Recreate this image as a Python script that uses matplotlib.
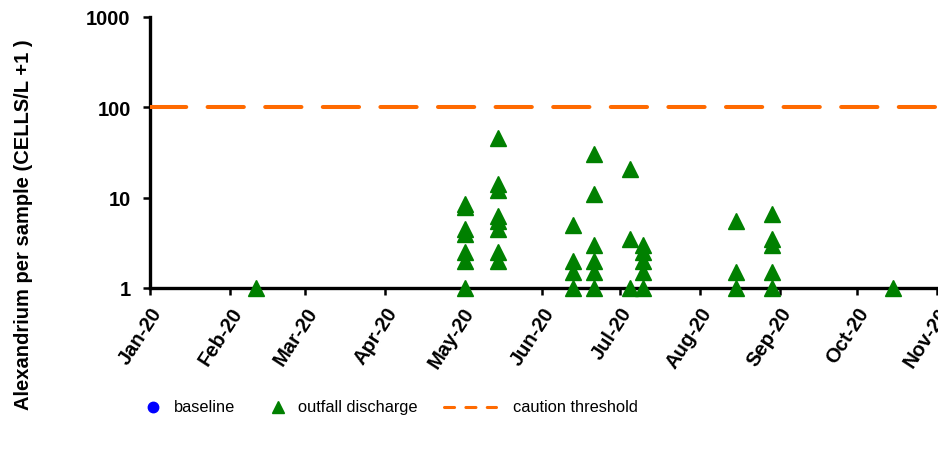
import datetime as dt

import matplotlib
matplotlib.use("Agg")
import matplotlib.pyplot as plt
import matplotlib.dates as mdates
from matplotlib.lines import Line2D

plt.rcParams["font.family"] = ["Liberation Sans", "DejaVu Sans"]

# sample dates (2020) and Alexandrium counts (cells/L + 1)
outfall_dates = (
    ["2020-02-11"]
    + ["2020-05-02"] * 7
    + ["2020-05-15"] * 8
    + ["2020-06-13"] * 4
    + ["2020-06-21"] * 6
    + ["2020-07-05"] * 3
    + ["2020-07-10"] * 5
    + ["2020-08-15"] * 3
    + ["2020-08-29"] * 5
    + ["2020-10-15"]
)
outfall_values = [
    1,
    8.5, 7.8, 4.5, 4.0, 2.5, 2.0, 1,
    46, 14, 12, 6.2, 5.5, 4.5, 2.5, 2.0,
    5, 2, 1.5, 1,
    30, 11, 3, 2, 1.5, 1,
    20.5, 3.5, 1,
    3, 2.5, 2, 1.5, 1,
    5.5, 1.5, 1,
    6.5, 3.5, 3, 1.5, 1,
    1,
]
baseline_dates = []
baseline_values = []
caution_threshold = 100

y_ticks = [1, 10, 100, 1000]
y_tick_labels = ["1", "10", "100", "1000"]
legend_labels = ["baseline", "outfall discharge", "caution threshold"]

BLUE = "#0000FF"
GREEN = "#008000"
ORANGE = "#FF6A00"

outfall_x = [dt.datetime.strptime(d, "%Y-%m-%d") for d in outfall_dates]

fig = plt.figure(figsize=(9.38, 4.6), dpi=100)
ax = fig.add_axes([0.16, 0.372, 0.839, 0.589])

ax.plot(baseline_dates, baseline_values, "o", color=BLUE, ms=8)
ax.plot(outfall_x, outfall_values, "^", color=GREEN, ms=11,
        clip_on=False, zorder=5)
ax.axhline(caution_threshold, color=ORANGE, lw=2.9, ls=(0, (9, 5.3)),
           dash_capstyle="round", zorder=3)

ax.set_yscale("log")
ax.set_ylim(1, 1000)
ax.set_yticks(y_ticks)
ax.set_yticklabels(y_tick_labels)
ax.minorticks_off()
ax.set_xlim(dt.datetime(2020, 1, 1), dt.datetime(2020, 11, 1))
ax.xaxis.set_major_locator(mdates.MonthLocator())
ax.xaxis.set_major_formatter(mdates.DateFormatter("%b-%y"))

for side in ["top", "right"]:
    ax.spines[side].set_visible(False)
for side in ["left", "bottom"]:
    ax.spines[side].set_linewidth(2.4)

ax.tick_params(axis="both", width=1.8, length=5)
ax.tick_params(axis="y", labelsize=14.5, pad=9)
ax.tick_params(axis="x", labelsize=14.5, pad=6)
for lbl in ax.get_yticklabels():
    lbl.set_fontweight("bold")
for lbl in ax.get_xticklabels():
    lbl.set_fontweight("bold")
    lbl.set_rotation(57)
    lbl.set_ha("right")
    lbl.set_rotation_mode("anchor")

ax.set_ylabel("Alexandrium per sample (CELLS/L +1 )", fontsize=14.5,
              fontweight="bold")
ax.yaxis.set_label_coords(-0.149, 0.236)

# legend row below the axes (figure pixel positions / 938 x 460)
ly = 1 - 408 / 460
fig.add_artist(Line2D([153 / 938], [ly], marker="o", color=BLUE, ms=7.5,
                      ls="none", transform=fig.transFigure))
fig.add_artist(Line2D([278 / 938], [ly], marker="^", color=GREEN, ms=9,
                      ls="none", transform=fig.transFigure))
fig.add_artist(Line2D([443.5 / 938, 495.5 / 938], [ly, ly], color=ORANGE,
                      lw=2.2, ls=(0, (3.3, 3.7)), dash_capstyle="round",
                      transform=fig.transFigure))
for x, txt in zip([174, 298, 513], legend_labels):
    fig.text(x / 938, ly, txt, fontsize=11.8, va="center", ha="left")

fig.savefig("out.png", dpi=100)
